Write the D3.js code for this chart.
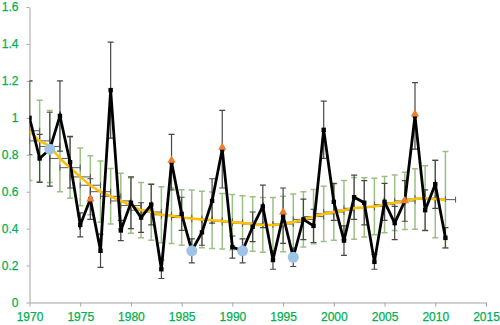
<!DOCTYPE html>
<html><head><meta charset="utf-8">
<script src="https://cdn.jsdelivr.net/npm/d3@7/dist/d3.min.js"></script>
<style>html,body{margin:0;padding:0;background:#fff}svg{display:block}</style>
</head><body>
<svg id="chart" width="500" height="325"></svg>
<script>
const years = [1970,1971,1972,1973,1974,1975,1976,1977,1978,1979,1980,1981,1982,1983,1984,1985,1986,1987,1988,1989,1990,1991,1992,1993,1994,1995,1996,1997,1998,1999,2000,2001,2002,2003,2004,2005,2006,2007,2008,2009,2010,2011];
const observed = [1.00,0.78,0.83,1.01,0.76,0.42,0.56,0.28,1.15,0.39,0.54,0.46,0.53,0.18,0.76,0.48,0.28,0.38,0.55,0.83,0.30,0.28,0.41,0.52,0.23,0.47,0.245,0.45,0.415,0.935,0.545,0.335,0.57,0.54,0.22,0.545,0.43,0.55,1.01,0.50,0.64,0.35];
const observedErr = [0.20,0.13,0.20,0.19,0.14,0.065,0.11,0.09,0.26,0.055,0.14,0.08,0.11,0.05,0.15,0.09,0.065,0.07,0.12,0.21,0.06,0.065,0.08,0.115,0.05,0.15,0.05,0.11,0.09,0.155,0.10,0.08,0.12,0.12,0.04,0.10,0.09,0.11,0.18,0.11,0.13,0.055];
const trend = [0.93,0.875,0.845,0.78,0.73,0.68,0.635,0.60,0.575,0.55,0.525,0.50,0.49,0.475,0.47,0.46,0.455,0.45,0.445,0.44,0.435,0.43,0.425,0.42,0.42,0.425,0.435,0.45,0.465,0.48,0.49,0.50,0.51,0.515,0.52,0.53,0.54,0.55,0.56,0.565,0.56,0.557];
const trendErr = [0.27,0.22,0.195,0.18,0.165,0.156,0.16,0.166,0.15,0.15,0.15,0.15,0.153,0.152,0.15,0.15,0.154,0.153,0.153,0.15,0.15,0.148,0.148,0.148,0.148,0.15,0.153,0.15,0.147,0.15,0.153,0.16,0.167,0.16,0.153,0.152,0.15,0.155,0.164,0.176,0.21,0.26];
const trendYearErr = 1;
const highYears = [1976,1984,1989,1995,2007,2008];
const highValues = [0.56,0.77,0.84,0.49,0.55,1.02];
const lowYears = [1972,1986,1991,1996];
const lowValues = [0.83,0.28,0.28,0.245];
const xTicks = [1970,1975,1980,1985,1990,1995,2000,2005,2010,2015];
const yTicks = [0,0.2,0.4,0.6,0.8,1,1.2,1.4,1.6];
const yTickLabels = ["0","0.2","0.4","0.6","0.8","1","1.2","1.4","1.6"];

const svg = d3.select("#chart");
const x = d3.scaleLinear().domain([1970,2015]).range([29.5,486]);
const y = d3.scaleLinear().domain([0,1.6]).range([302.5,7]);
const labelColor = "#00b050";
const font = "'Liberation Sans', Arial, sans-serif";

svg.append("defs").append("clipPath").attr("id","plotclip")
  .append("rect").attr("x",29.5).attr("y",0).attr("width",470).attr("height",303);

const gy = svg.append("g").attr("transform","translate(29.5,0)")
  .call(d3.axisLeft(y).tickValues(yTicks).tickFormat((d,i)=>yTickLabels[i]).tickSize(3).tickPadding(8).tickSizeOuter(0));
const gx = svg.append("g").attr("transform","translate(0,302.5)")
  .call(d3.axisBottom(x).tickValues(xTicks).tickFormat(d3.format("d")).tickSize(4).tickPadding(6).tickSizeOuter(0));
[gx,gy].forEach(g=>{
  g.select(".domain").attr("stroke","#a6a6a6").attr("stroke-width",1);
  g.selectAll(".tick line").attr("stroke","#a6a6a6");
  g.selectAll(".tick text").attr("fill",labelColor).attr("font-family",font).attr("font-size",12)
    .attr("stroke",labelColor).attr("stroke-width",0.25);
});

const plot = svg.append("g").attr("clip-path","url(#plotclip)");
const cap = 3;

const tErr = plot.append("g").attr("stroke","#9cbf85").attr("stroke-width",1.5).attr("fill","none");
years.forEach((yr,i)=>{
  const cx = x(yr), lo = y(trend[i]-trendErr[i]), hi = y(trend[i]+trendErr[i]);
  tErr.append("line").attr("x1",cx).attr("x2",cx).attr("y1",lo).attr("y2",hi);
  tErr.append("line").attr("x1",cx-cap).attr("x2",cx+cap).attr("y1",lo).attr("y2",lo);
  tErr.append("line").attr("x1",cx-cap).attr("x2",cx+cap).attr("y1",hi).attr("y2",hi);
});

const hErr = plot.append("g").attr("stroke","#595959").attr("stroke-width",1).attr("fill","none");
years.forEach((yr,i)=>{
  const cy = y(trend[i]), l = x(yr-trendYearErr), r = x(yr+trendYearErr);
  hErr.append("line").attr("x1",l).attr("x2",r).attr("y1",cy).attr("y2",cy);
  hErr.append("line").attr("x1",l).attr("x2",l).attr("y1",cy-cap).attr("y2",cy+cap);
  hErr.append("line").attr("x1",r).attr("x2",r).attr("y1",cy-cap).attr("y2",cy+cap);
});

const oErr = plot.append("g").attr("stroke","#474747").attr("stroke-width",1.2).attr("fill","none");
years.forEach((yr,i)=>{
  const cx = x(yr), lo = y(observed[i]-observedErr[i]), hi = y(observed[i]+observedErr[i]);
  oErr.append("line").attr("x1",cx).attr("x2",cx).attr("y1",lo).attr("y2",hi);
  oErr.append("line").attr("x1",cx-cap).attr("x2",cx+cap).attr("y1",lo).attr("y2",lo);
  oErr.append("line").attr("x1",cx-cap).attr("x2",cx+cap).attr("y1",hi).attr("y2",hi);
});

plot.append("path").datum(years.map((yr,i)=>[yr,trend[i]]))
  .attr("fill","none").attr("stroke","#ffc000").attr("stroke-width",2.5)
  .attr("d",d3.line().x(d=>x(d[0])).y(d=>y(d[1])).curve(d3.curveMonotoneX));

plot.append("path").datum(years.map((yr,i)=>[yr,observed[i]]))
  .attr("fill","none").attr("stroke","#000").attr("stroke-width",2.8).attr("stroke-linejoin","miter")
  .attr("d",d3.line().x(d=>x(d[0])).y(d=>y(d[1])));
plot.append("g").selectAll("rect").data(years).join("rect")
  .attr("x",(d)=>x(d)-2.2).attr("y",(d,i)=>y(observed[i])-2.2).attr("width",4.4).attr("height",4.4).attr("fill","#000");

plot.append("g").selectAll("path").data(highYears).join("path")
  .attr("transform",(d,i)=>`translate(${x(d)},${y(highValues[i])})`)
  .attr("d",d3.symbol(d3.symbolTriangle,30)).attr("fill","#ed7d31");

plot.append("g").selectAll("circle").data(lowYears).join("circle")
  .attr("cx",d=>x(d)).attr("cy",(d,i)=>y(lowValues[i])).attr("r",5.5).attr("fill","#9dc3e6");
</script>
</body></html>
